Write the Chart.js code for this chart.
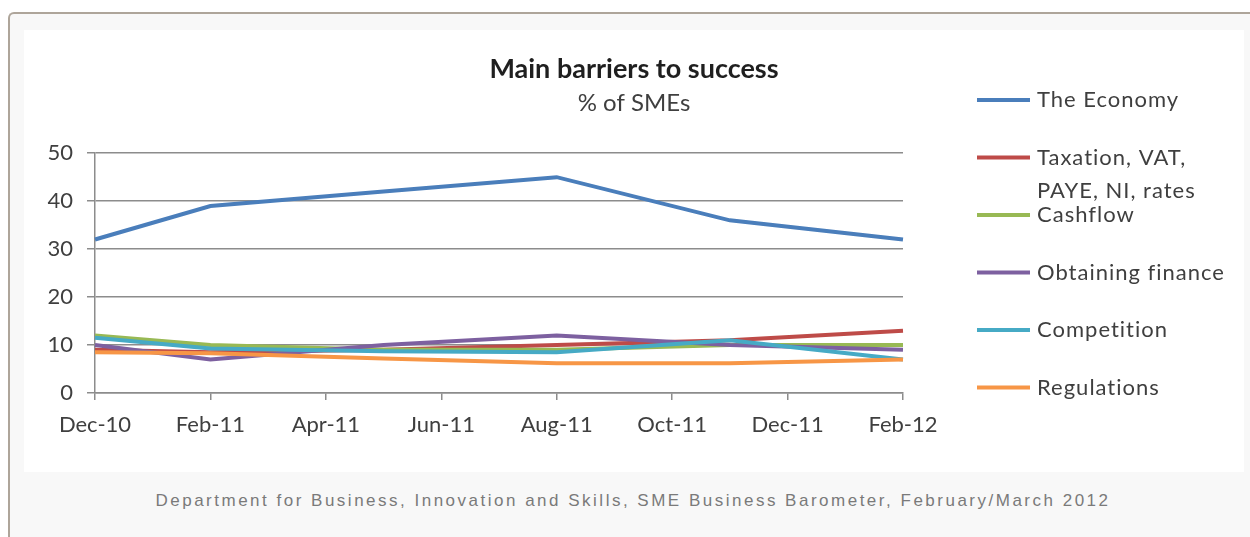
<!DOCTYPE html>
<html>
<head>
<meta charset="utf-8">
<title>Main barriers to success</title>
<script src="https://cdn.jsdelivr.net/npm/chart.js@4.4.0/dist/chart.umd.min.js"></script>
<style>
  html, body { margin: 0; padding: 0; width: 1250px; height: 537px; overflow: hidden; background: #fff; }
  #frame {
    position: absolute; left: 8px; top: 12px; width: 1260px; height: 540px;
    border-left: 2px solid #aea59a; border-top: 2px solid #aea59a;
    border-top-left-radius: 6px; background: #f8f8f8;
  }
  #chartBox { position: absolute; left: 24px; top: 30px; width: 1220px; height: 442px; background: #fff; }
  #caption {
    position: absolute; left: 0; top: 491px; width: 1266px; line-height: 20px;
    text-align: center; color: #7a7a7a; letter-spacing: 2.5px;
    font: 17px 'Liberation Sans', Arial, sans-serif;
  }
</style>
</head>
<body>
<div id="frame"></div>
<div id="chartBox"><canvas id="chart" width="1220" height="442"></canvas></div>
<div id="caption">Department for Business, Innovation and Skills, SME Business Barometer, February/March 2012</div>

<script>
// axis months (ticks every second month) and the survey waves
const months = ['Dec-10', 'Jan-11', 'Feb-11', 'Mar-11', 'Apr-11', 'May-11', 'Jun-11', 'Jul-11',
                'Aug-11', 'Sep-11', 'Oct-11', 'Nov-11', 'Dec-11', 'Jan-12', 'Feb-12'];
const surveyMonths = ['Dec-10', 'Feb-11', 'May-11', 'Aug-11', 'Nov-11', 'Feb-12'];

// % of SMEs naming each barrier
const economy = [32, 39, 42, 45, 36, 32];
const taxation = [9, 8.5, 9, 10, 11, 13];
const cashflow = [12, 10, 9, 9, 10, 10];
const finance = [10, 7, 10, 12, 10, 9];
const competition = [11.5, 9.3, 8.7, 8.5, 11, 7];
const regulations = [8.5, 8.3, 7.2, 6.2, 6.2, 7];

const seriesNames = ['The Economy', 'Taxation, VAT, PAYE, NI, rates', 'Cashflow',
                     'Obtaining finance', 'Competition', 'Regulations'];
const legendText = [['The Economy'], ['Taxation, VAT,', 'PAYE, NI, rates'], ['Cashflow'],
                    ['Obtaining finance'], ['Competition'], ['Regulations']];
const seriesValues = [economy, taxation, cashflow, finance, competition, regulations];
const colors = ['#4A7EBB', '#BE4B48', '#98B954', '#7D60A0', '#46AAC5', '#F79646'];

const yMin = 0;
const yMax = 50;
const yStep = 10;

const textColor = '#3f3f3f';
const gridColor = '#8c8c8c';
const legendWidth = 341;

function drawLegend(chart, box) {
    const ctx = chart.ctx;
    const top = 70;
    const step = 57.5;
    ctx.save();
    ctx.font = '22px Lato';
    ctx.letterSpacing = '1px';
    ctx.textBaseline = 'middle';
    chart.data.datasets.forEach((ds, i) => {
        const y = top + i * step;
        ctx.strokeStyle = ds.borderColor;
        ctx.lineWidth = 4;
        ctx.beginPath();
        ctx.moveTo(box.left + 74, y);
        ctx.lineTo(box.left + 127, y);
        ctx.stroke();
        ctx.fillStyle = textColor;
        legendText[i].forEach((line, j) => ctx.fillText(line, box.left + 134, y + j * 33));
    });
    ctx.restore();
}

// legend as a layout box on the right, so the title stays centred on the whole chart
const sideLegend = {
    id: 'sideLegend',
    beforeInit(chart) {
        const box = {
            position: 'right',
            weight: 1000,
            fullSize: false,
            options: {},
            left: 0, top: 0, right: 0, bottom: 0, width: 0, height: 0,
            isHorizontal() { return false; },
            update(maxWidth, maxHeight) {
                this.width = legendWidth;
                this.height = maxHeight;
            },
            draw() { drawLegend(chart, box); }
        };
        Chart.layouts.addBox(chart, box);
    }
};

const datasets = seriesNames.map((name, i) => ({
    label: name,
    data: surveyMonths.map((m, k) => ({ x: m, y: seriesValues[i][k] })),
    borderColor: colors[i],
    backgroundColor: colors[i],
    borderWidth: 4,
    pointRadius: 0,
    tension: 0,
    order: seriesNames.length - i
}));

new Chart(document.getElementById('chart'), {
    type: 'line',
    data: { labels: months, datasets: datasets },
    options: {
        responsive: false,
        animation: false,
        devicePixelRatio: 1,
        plugins: {
            legend: { display: false },
            tooltip: { enabled: false },
            title: {
                display: true,
                text: 'Main barriers to success',
                color: '#1f1f1f',
                font: { family: 'Lato', size: 27, weight: 'bold' },
                padding: { top: 23, bottom: 3 }
            },
            subtitle: {
                display: true,
                text: '% of SMEs',
                color: textColor,
                font: { family: 'Lato', size: 24 },
                padding: { top: 0, bottom: 36 }
            }
        },
        scales: {
            x: {
                type: 'category',
                offset: false,
                grid: {
                    drawOnChartArea: false,
                    drawTicks: true,
                    tickLength: 7,
                    lineWidth: 1.5,
                    tickColor: (c) => (c.index % 2 === 0 ? gridColor : 'rgba(0,0,0,0)')
                },
                border: { color: gridColor, width: 1.5 },
                ticks: {
                    autoSkip: false,
                    maxRotation: 0,
                    padding: 12,
                    color: textColor,
                    font: { family: 'Lato', size: 22 },
                    callback: (v, i) => (i % 2 === 0 ? months[i] : '')
                },
                afterFit: (s) => { s.height = 79; }
            },
            y: {
                min: yMin,
                max: yMax,
                grid: { color: gridColor, lineWidth: 1.5, tickLength: 8 },
                border: { color: gridColor, width: 1.5 },
                ticks: {
                    stepSize: yStep,
                    padding: 14,
                    color: textColor,
                    font: { family: 'Lato', size: 22 }
                },
                afterFit: (s) => { s.width = 71; }
            }
        }
    },
    plugins: [sideLegend]
});
</script>
</body>
</html>
